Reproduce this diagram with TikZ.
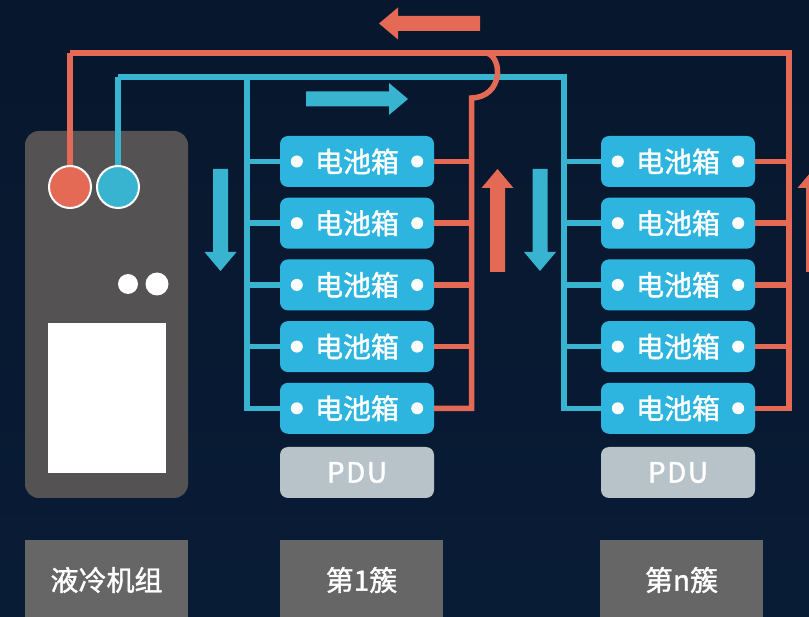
\documentclass[tikz,border=0pt]{standalone}
\usepackage{fontspec}
\setmainfont{Noto Sans CJK SC}
\newfontfamily\heavyfont{Noto Sans CJK SC}[FakeBold=1.4]
\definecolor{bgtop}{RGB}{7, 23, 45}
\definecolor{bgbottom}{RGB}{9, 28, 54}
\definecolor{hotred}{RGB}{228, 106, 86}
\definecolor{coolblue}{RGB}{56, 180, 208}
\definecolor{packblue}{RGB}{45, 181, 224}
\definecolor{pdugray}{RGB}{184, 194, 201}
\definecolor{unitgray}{RGB}{84, 82, 82}
\definecolor{labelgray}{RGB}{102, 102, 102}
\usetikzlibrary{arrows.meta, positioning, calc}

\begin{document}
\begin{tikzpicture}[x=1pt, y=-1pt,
  pipe/.style={line width=5.5pt},
  hotpipe/.style={pipe, draw=hotred},
  coolpipe/.style={pipe, draw=coolblue},
  pack/.style={fill=packblue, rounded corners=8pt, minimum width=154pt, minimum height=51pt, inner sep=0pt, text=white, font=\heavyfont\fontsize{28}{30}\selectfont},
  pdu/.style={pack, fill=pdugray, font=\heavyfont\fontsize{28}{30}\selectfont},
  tag/.style={fill=labelgray, minimum width=163pt, minimum height=80pt, inner sep=0pt, text=white, font=\heavyfont\fontsize{28}{30}\selectfont},
  port/.style={circle, draw=white, line width=2pt, minimum size=42pt, inner sep=0pt},
  flowarrow/.pic={\fill (-#1,-7.5) -- (-19,-7.5) -- (-19,-16) -- (0,0) -- (-19,16) -- (-19,7.5) -- (-#1,7.5) -- cycle;}
]
  \useasboundingbox (0,0) rectangle (809,617);
  \clip (0,0) rectangle (809,617);
  \shade[top color=bgtop, bottom color=bgbottom] (0,0) rectangle (809,617);

  % Chiller unit
  \node[fill=unitgray, rounded corners=14pt, minimum width=163pt, minimum height=367pt, inner sep=0pt] (chiller) at (106.5,314.5) {};
  \node[fill=white, minimum width=118pt, minimum height=150pt, inner sep=0pt] (screen) at (107,398) {};
  \fill[white] (128,284) circle (10pt) (157,284) circle (11.5pt);

  % Battery boxes
  \foreach \i in {1,...,5} {
    \node[pack] (first-\i) at (357,99.8+61.7*\i) {电池箱};
    \node[pack] (nth-\i) at (678,99.8+61.7*\i) {电池箱};
    \fill[white] ($(first-\i.west)+(17,0)$) circle (6pt) ($(first-\i.east)+(-17,0)$) circle (6pt);
    \fill[white] ($(nth-\i.west)+(17,0)$) circle (6pt) ($(nth-\i.east)+(-17,0)$) circle (6pt);
  }
  \node[pdu] (firstpdu) at (357,472.5) {P\kern1.5pt D\kern1.5pt U};
  \node[pdu] (nthpdu) at (678,472.5) {P\kern1.5pt D\kern1.5pt U};

  % Supply (blue)
  \coordinate (coolmain) at (118,77);
  \coordinate (coolfirst) at (247,77);
  \coordinate (coolnth) at (564,77);
  \draw[coolpipe] (coolmain) -- (coolnth) |- (nth-5.west);
  \draw[coolpipe] (coolfirst) |- (first-5.west);
  \foreach \i in {1,...,4} {
    \draw[coolpipe] (coolfirst |- first-\i.west) -- (first-\i.west);
    \draw[coolpipe] (coolnth |- nth-\i.west) -- (nth-\i.west);
  }

  % Return (red)
  \coordinate (hotmain) at (70,53);
  \coordinate (hotnth) at (789,53);
  \coordinate (hop) at (487,53);
  \coordinate (hotfirst) at (471.5,98);
  \draw[hotpipe] (hotmain) -- (hotnth) |- (nth-5.east);
  \draw[hotpipe] (hop) .. controls (503,58) and (503,97) .. (hotfirst) |- (first-5.east);
  \foreach \i in {1,...,4} {
    \draw[hotpipe] (first-\i.east) -- (hotfirst |- first-\i.east);
    \draw[hotpipe] (nth-\i.east) -- (hotnth |- nth-\i.east);
  }

  % Ports
  \draw[hotpipe] (hotmain) -- (70,170);
  \draw[coolpipe] (coolmain) -- (118,170);
  \node[port, fill=hotred] (hotport) at (70,187) {};
  \node[port, fill=coolblue] (coolport) at (118,187) {};

  % Flow arrows
  \pic[fill=hotred, rotate=180] at (379,23.5) {flowarrow=101};
  \pic[fill=coolblue] at (408,99) {flowarrow=102};
  \pic[fill=coolblue, rotate=-90] at (220.5,271) {flowarrow=102};
  \pic[fill=coolblue, rotate=-90] at (540,271) {flowarrow=102};
  \pic[fill=hotred, rotate=90] at (497.5,169) {flowarrow=103};
  \pic[fill=hotred, rotate=90] at (813.5,169) {flowarrow=103};

  % Labels
  \node[tag] (unitlabel) at (106.5,580) {液冷机组};
  \node[tag] (firstlabel) at (361.5,580) {第1簇};
  \node[tag] (nthlabel) at (681.5,580) {第n簇};
\end{tikzpicture}
\end{document}
